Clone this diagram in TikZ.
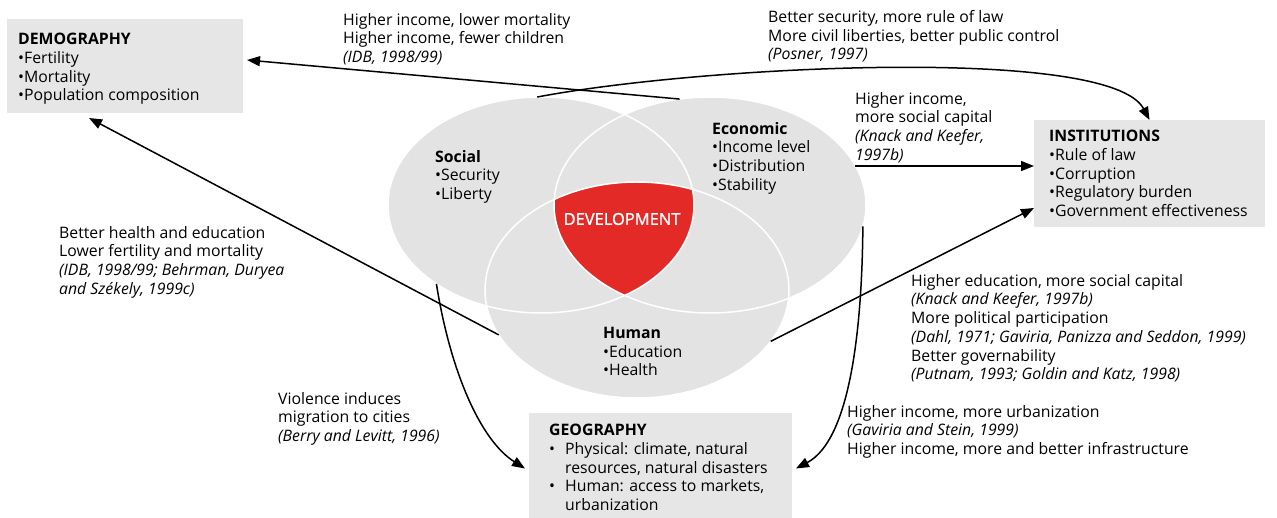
\documentclass[tikz,border=0pt]{standalone}
\usepackage{fontspec}
\setmainfont{Open Sans}
\newfontface\devfont{Open Sans}[FakeBold=1.2]
\usetikzlibrary{shapes.geometric,arrows.meta}
\definecolor{ellgray}{HTML}{E3E3E3}
\definecolor{boxgray}{HTML}{E6E6E6}
\definecolor{devred}{HTML}{E32A27}
\begin{document}
\begin{tikzpicture}[x=1pt,y=1pt,
  txt/.style={anchor=north west, inner sep=0pt, align=left, font=\fontsize{15.8}{18.75}\selectfont},
  arr/.style={line width=1.5pt, -{Triangle[length=13pt,width=10pt]}},
  box/.style={fill=boxgray, anchor=north west, inner sep=0pt, outer sep=0pt},
  ell/.style={ellipse, fill=ellgray, inner sep=0pt, outer sep=0pt},
  edge/.style={draw=white, line width=1.5pt}]
\useasboundingbox (0,0) rectangle (1277,-518);

% boxes
\node[box, minimum width=236pt, minimum height=94pt] (demo) at (7,-19) {};
\node[box, minimum width=231pt, minimum height=107pt] (inst) at (1034,-120) {};
\node[box, minimum width=263pt, minimum height=105pt] (geo) at (529,-413) {};

% ellipses
\node[ell, minimum width=306pt, minimum height=216pt] (social) at (541,-205) {};
\node[ell, minimum width=312pt, minimum height=216pt] (econ) at (710,-205) {};
\node[ell, minimum width=304pt, minimum height=216pt] (human) at (637,-290) {};
\begin{scope}
  \clip (social.center) ellipse [x radius=153pt, y radius=108pt];
  \clip (econ.center) ellipse [x radius=156pt, y radius=108pt];
  \fill[devred] (human.center) ellipse [x radius=152pt, y radius=108pt];
\end{scope}
\draw[edge] (social.center) ellipse [x radius=153pt, y radius=108pt];
\draw[edge] (econ.center) ellipse [x radius=156pt, y radius=108pt];
\draw[edge] (human.center) ellipse [x radius=152pt, y radius=108pt];

% texts in boxes and ellipses
\node[txt] (demotxt) at (18,-33) {\textbf{DEMOGRAPHY}\\•Fertility\\•Mortality\\•Population composition};
\node[txt] (insttxt) at (1049,-130) {\textbf{INSTITUTIONS}\\•Rule of law\\•Corruption\\•Regulatory burden\\•Government effectiveness};
\node[txt] (geotxt) at (549,-424) {\textbf{GEOGRAPHY}\\\makebox[16pt][l]{•}Physical: climate, natural\\\hspace*{16pt}resources, natural disasters\\\makebox[16pt][l]{•}Human: access to markets,\\\hspace*{16pt}urbanization};
\node[txt] (soctxt) at (435,-150) {\textbf{Social}\\•Security\\•Liberty};
\node[txt] (ecotxt) at (712,-122) {\textbf{Economic}\\•Income level\\•Distribution\\•Stability};
\node[txt] (humtxt) at (603,-327) {\textbf{Human}\\•Education\\•Health};
\node[font=\devfont\fontsize{16.5}{18}\selectfont, text=white, inner sep=0pt] (dev) at (622,-219) {DEVELOPMENT};

% labels
\node[txt] (la) at (343,-13) {Higher income, lower mortality\\Higher income, fewer children\\\textit{(IDB, 1998/99)}};
\node[txt] (lb) at (768,-10) {Better security, more rule of law\\More civil liberties, better public control\\\textit{(Posner, 1997)}};
\node[txt] (lc) at (855,-92) {Higher income,\\more social capital\\\textit{(Knack and Keefer,}\\\textit{1997b)}};
\node[txt] (ld) at (59,-226) {Better health and education\\Lower fertility and mortality\\\textit{(IDB, 1998/99; Behrman, Duryea}\\\textit{and Székely, 1999c)}};
\node[txt] (le) at (911,-274) {Higher education, more social capital\\\textit{(Knack and Keefer, 1997b)}\\More political participation\\\textit{(Dahl, 1971; Gaviria, Panizza and Seddon, 1999)}\\Better governability\\\textit{(Putnam, 1993; Goldin and Katz, 1998)}};
\node[txt] (lf) at (278,-392) {Violence induces\\migration to cities\\\textit{(Berry and Levitt, 1996)}};
\node[txt] (lg) at (847,-405) {Higher income, more urbanization\\\textit{(Gaviria and Stein, 1999)}\\Higher income, more and better infrastructure};

% connectors
\draw[arr] (econ.106) -- ([xshift=4pt,yshift=6pt]demo.east);
\draw[arr] (social.92) .. controls (700,-66) and (1110,-45) .. (inst.north);
\draw[arr] (econ.15) -- (econ.15 -| inst.west);
\draw[arr] (human.-21) -- ([yshift=19pt]inst.south west);
\draw[arr] (econ.-8) .. controls (862,-330) and (850,-440) .. ([xshift=4pt,yshift=-3pt]geo.east);
\draw[arr] (social.217) .. controls (450,-370) and (480,-440) .. ([xshift=-4pt,yshift=-3pt]geo.west);
\draw[arr] (human.198) -- ([xshift=82pt,yshift=-5pt]demo.south west);
\end{tikzpicture}
\end{document}
